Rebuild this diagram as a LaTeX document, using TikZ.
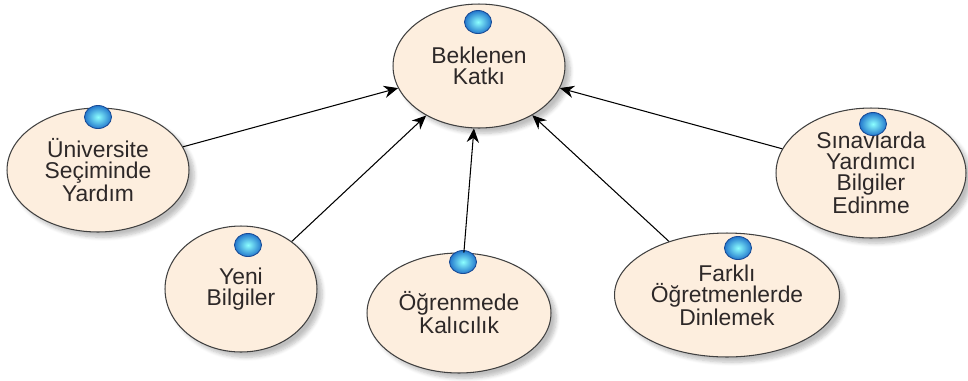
\documentclass[tikz,border=0pt]{standalone}
\usepackage{fontspec}
\setmainfont{Liberation Sans}
\usetikzlibrary{shapes.geometric,arrows.meta,shadows.blur}
\definecolor{casefill}{RGB}{253,238,222}
\definecolor{casetext}{RGB}{45,40,40}
\definecolor{beadblue}{RGB}{35,120,205}
\definecolor{beadrim}{RGB}{25,75,150}

\begin{document}
\begin{tikzpicture}[x=0.02cm, y=-0.02cm,
  usecase/.style={ellipse, draw=black!75, line width=0.6pt, fill=casefill, inner sep=0pt,
    align=center, text=casetext, font=\fontsize{13}{11.8}\selectfont,
    blur shadow={shadow xshift=3pt, shadow yshift=-3pt, shadow opacity=25, shadow blur steps=6}},
  bead/.style={ellipse, minimum width=0.54cm, minimum height=0.46cm, inner sep=0pt,
    draw=beadrim, line width=0.5pt, inner color=white!55!cyan, outer color=beadblue},
  link/.style={-{Stealth[length=8pt, width=7pt]}, line width=0.6pt}]
\useasboundingbox (0,0) rectangle (968,380);

% the use cases
\node[usecase, minimum width=3.44cm, minimum height=2.48cm] (katki) at (479,66) {Beklenen\\Katkı};
\node[usecase, minimum width=3.64cm, minimum height=2.48cm] (uni) at (98,170) {Üniversite\\Seçiminde\\Yardım};
\node[usecase, minimum width=3.8cm, minimum height=2.6cm] (sinav) at (871,173) {Sınavlarda\\Yardımcı\\Bilgiler\\Edinme};
\node[usecase, minimum width=3.04cm, minimum height=2.52cm] (yeni) at (241,289) {Yeni\\Bilgiler};
\node[usecase, minimum width=3.68cm, minimum height=2.4cm] (kalici) at (459,313) {Öğrenmede\\Kalıcılık};
\node[usecase, minimum width=4.5cm, minimum height=2.48cm] (farkli) at (727,295) {Farklı\\Öğretmenlerde\\Dinlemek};

% little blue beads on top
\node[bead] (b1) at (478,22) {};
\node[bead] (b2) at (98,117) {};
\node[bead] (b3) at (873,124) {};
\node[bead] (b4) at (248,245) {};
\node[bead] (b5) at (463,262) {};
\node[bead] (b6) at (738,248) {};

\draw[link] (uni) -- (katki);
\draw[link] (yeni) -- (katki);
\draw[link] (kalici) -- (katki);
\draw[link] (farkli) -- (katki);
\draw[link] (sinav) -- (katki);

\end{tikzpicture}
\end{document}
